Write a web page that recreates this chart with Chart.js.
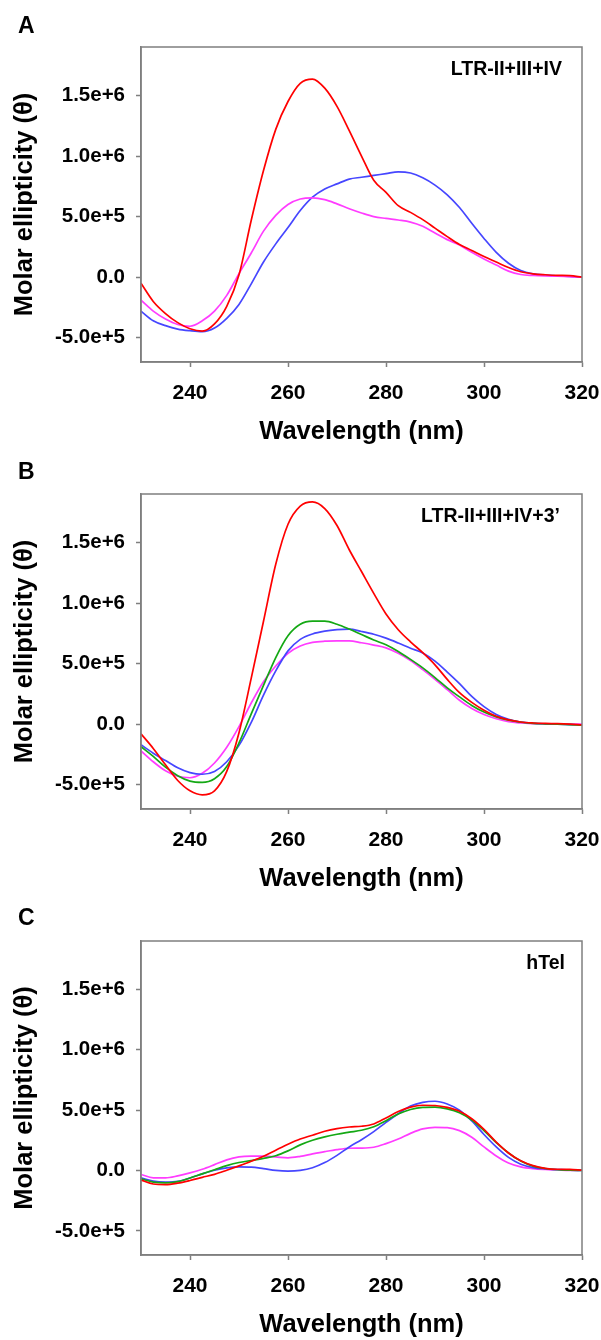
<!DOCTYPE html>
<html>
<head>
<meta charset="utf-8">
<script src="https://cdn.jsdelivr.net/npm/chart.js@4.4.1/dist/chart.umd.min.js"></script>
<style>
  body { margin: 0; background: #fff; width: 601px; height: 1340px; position: relative; overflow: hidden;
         font-family: Arial, "Liberation Sans", sans-serif; }
  .panel { position: absolute; left: 0; width: 601px; height: 447px; }
  .panel canvas { position: absolute; left: 0; top: 0; }
  .letter { position: absolute; left: 18px; font-weight: bold; font-size: 23px; line-height: 23px; color: #000; }
</style>
</head>
<body>
<div class="panel" style="top:0px"><canvas id="chartA" width="601" height="447"></canvas><div class="letter" style="top:14px">A</div></div>
<div class="panel" style="top:447px"><canvas id="chartB" width="601" height="447"></canvas><div class="letter" style="top:13px">B</div></div>
<div class="panel" style="top:894px"><canvas id="chartC" width="601" height="446"></canvas><div class="letter" style="top:12px">C</div></div>
<script>
// wavelength grid (nm), shared by every curve
const wavelengths = [230, 232.5, 235, 237.5, 240, 242.5, 245, 247.5, 250, 252.5, 255, 257.5, 260,
  262.5, 265, 267.5, 270, 272.5, 275, 277.5, 280, 282.5, 285, 287.5, 290, 292.5, 295, 297.5,
  300, 302.5, 305, 307.5, 310, 312.5, 315, 317.5, 320];
const xTickValues = [240, 260, 280, 300, 320];
const yTickValues = [-5e5, 0, 5e5, 1e6, 1.5e6];
const UNIT = 1e5; // series below are in units of 1e5

// panel A: LTR-II+III+IV
const redA = [-0.5, -2.0, -3.0, -3.75, -4.25, -4.45, -3.85, -2.4, 0.2, 4.7, 8.8, 12.2, 14.5,
  16.0, 16.35, 15.6, 14.1, 12.1, 10.0, 8.0, 7.0, 5.9, 5.35, 4.75, 4.05, 3.35, 2.7, 2.2,
  1.7, 1.25, 0.8, 0.45, 0.28, 0.2, 0.15, 0.13, 0.0];
const blueA = [-2.8, -3.6, -4.0, -4.28, -4.42, -4.5, -4.2, -3.4, -2.25, -0.55, 1.25, 2.75, 4.1,
  5.5, 6.6, 7.27, 7.7, 8.1, 8.25, 8.4, 8.55, 8.7, 8.6, 8.2, 7.6, 6.8, 5.75, 4.45,
  3.2, 2.05, 1.15, 0.55, 0.28, 0.18, 0.12, 0.06, 0.0];
const magentaA = [-1.9, -2.8, -3.45, -3.9, -4.05, -3.6, -2.8, -1.5, 0.3, 2.0, 3.8, 5.1, 6.0,
  6.45, 6.55, 6.4, 6.05, 5.65, 5.3, 5.0, 4.85, 4.72, 4.55, 4.2, 3.65, 3.1, 2.65, 2.05,
  1.5, 1.0, 0.5, 0.22, 0.14, 0.1, 0.08, 0.05, 0.0];

// panel B: LTR-II+III+IV+3'
const redB = [-0.8, -2.0, -3.35, -4.65, -5.5, -5.83, -5.5, -3.9, -0.7, 3.8, 8.5, 13.2, 16.5,
  18.0, 18.35, 17.8, 16.4, 14.4, 12.6, 10.8, 9.1, 7.8, 6.8, 5.9, 4.9, 3.7, 2.6, 1.8,
  1.15, 0.65, 0.35, 0.18, 0.1, 0.06, 0.04, 0.0, -0.06];
const blueB = [-1.7, -2.4, -3.0, -3.6, -4.0, -4.13, -3.9, -3.1, -1.75, 0.15, 2.4, 4.4, 6.05,
  7.0, 7.45, 7.68, 7.8, 7.84, 7.65, 7.42, 7.1, 6.7, 6.27, 5.88, 5.2, 4.3, 3.35, 2.3,
  1.45, 0.8, 0.4, 0.18, 0.08, 0.03, 0.0, -0.03, -0.06];
const greenB = [-1.85, -2.66, -3.55, -4.25, -4.7, -4.8, -4.5, -3.5, -1.55, 0.85, 3.2, 5.5, 7.3,
  8.25, 8.5, 8.5, 8.25, 7.85, 7.4, 6.95, 6.55, 6.0, 5.35, 4.65, 3.85, 3.0, 2.25, 1.55,
  1.0, 0.6, 0.33, 0.16, 0.07, 0.03, 0.0, -0.04, -0.08];
const magentaB = [-2.2, -3.1, -3.85, -4.3, -4.42, -4.05, -3.2, -1.9, -0.2, 1.75, 3.5, 4.8, 5.85,
  6.45, 6.75, 6.85, 6.87, 6.87, 6.72, 6.53, 6.3, 5.85, 5.25, 4.5, 3.7, 2.85, 1.98, 1.3,
  0.8, 0.45, 0.2, 0.1, 0.05, 0.02, 0.0, 0.0, 0.0];

// panel C: hTel
const redC = [-0.8, -1.12, -1.17, -1.05, -0.83, -0.57, -0.32, 0.02, 0.38, 0.76, 1.18, 1.68, 2.17,
  2.6, 2.92, 3.25, 3.47, 3.6, 3.66, 3.85, 4.35, 4.88, 5.25, 5.4, 5.38, 5.22, 4.9, 4.28,
  3.4, 2.35, 1.45, 0.8, 0.4, 0.18, 0.1, 0.09, 0.03];
const blueC = [-0.61, -0.88, -0.96, -0.9, -0.62, -0.28, 0.02, 0.22, 0.3, 0.28, 0.15, 0.0, -0.06,
  0.0, 0.22, 0.65, 1.25, 1.95, 2.55, 3.22, 3.98, 4.7, 5.33, 5.64, 5.73, 5.5, 4.98, 4.1,
  2.98, 1.95, 1.08, 0.52, 0.24, 0.13, 0.08, 0.03, 0.0];
const greenC = [-0.69, -0.96, -1.02, -0.92, -0.62, -0.28, 0.06, 0.4, 0.66, 0.82, 1.0, 1.22, 1.62,
  2.12, 2.5, 2.78, 3.0, 3.17, 3.33, 3.62, 4.12, 4.68, 5.05, 5.22, 5.24, 5.1, 4.78, 4.18,
  3.3, 2.3, 1.45, 0.78, 0.36, 0.16, 0.06, 0.02, 0.0];
const magentaC = [-0.33, -0.61, -0.62, -0.45, -0.2, 0.1, 0.48, 0.88, 1.12, 1.18, 1.18, 1.12, 1.05,
  1.17, 1.37, 1.56, 1.73, 1.84, 1.85, 1.92, 2.22, 2.6, 3.07, 3.44, 3.57, 3.55, 3.3, 2.75,
  1.95, 1.2, 0.62, 0.3, 0.15, 0.08, 0.04, 0.0, 0.02];

const RED = "#ff0000";
const BLUE = "#4646ff";
const MAGENTA = "#ff3cff";
const GREEN = "#14a814";
const FRAME = "#7f7f7f";

Chart.defaults.font.family = 'Arial, "Liberation Sans", sans-serif';
Chart.defaults.color = "#000";

// box round the plot + the sample name in the top right corner
const frameAndLabel = {
    id: "frameAndLabel",
    afterDraw(chart, args, opts) {
        const { ctx, chartArea } = chart;
        ctx.save();
        ctx.strokeStyle = FRAME;
        ctx.lineWidth = 1.5;
        ctx.strokeRect(chartArea.left, chartArea.top, chartArea.right - chartArea.left, chartArea.bottom - chartArea.top);
        ctx.font = 'bold 19.5px Arial, "Liberation Sans", sans-serif';
        ctx.fillStyle = "#000";
        ctx.textAlign = "right";
        ctx.textBaseline = "alphabetic";
        ctx.fillText(opts.text, chartArea.right - opts.inset, chartArea.top + 27.5);
        ctx.restore();
    }
};

function makeChart(id, series, label, inset) {
    // first dataset is drawn on top, so red goes first
    const datasets = series.map(s => ({
        data: wavelengths.map((w, i) => ({ x: w, y: s.values[i] * UNIT })),
        borderColor: s.color,
        borderWidth: 1.7,
        pointRadius: 0,
        fill: false,
        cubicInterpolationMode: "monotone"
    }));

    return new Chart(document.getElementById(id), {
        type: "line",
        data: { datasets: datasets },
        options: {
            responsive: false,
            animation: false,
            layout: { padding: { top: 47, right: 19, left: 0, bottom: 0 } },
            plugins: {
                legend: { display: false },
                tooltip: { enabled: false },
                frameAndLabel: { text: label, inset: inset }
            },
            scales: {
                x: {
                    type: "linear",
                    min: 230,
                    max: 320,
                    afterFit: s => { s.height = 85; s.paddingLeft = 0; s.paddingRight = 0; },
                    afterBuildTicks: s => { s.ticks = xTickValues.map(v => ({ value: v })); },
                    grid: { drawOnChartArea: false, tickLength: 5, tickColor: FRAME, tickWidth: 1.5 },
                    border: { color: FRAME, width: 1.5 },
                    ticks: { font: { size: 21, weight: "bold" }, padding: 14, maxRotation: 0 },
                    title: {
                        display: true,
                        text: "Wavelength (nm)",
                        font: { size: 25.5, weight: "bold" },
                        padding: { top: 0, bottom: 0 }
                    }
                },
                y: {
                    min: -7e5,
                    max: 1.9e6,
                    afterFit: s => { s.width = 141; },
                    afterBuildTicks: s => { s.ticks = yTickValues.map(v => ({ value: v })); },
                    grid: { drawOnChartArea: false, tickLength: 5, tickColor: FRAME, tickWidth: 1.5 },
                    border: { color: FRAME, width: 1.5 },
                    ticks: {
                        font: { size: 20.5, weight: "bold" },
                        padding: 11,
                        callback: v => v === 0 ? "0.0" : v.toExponential(1)
                    },
                    title: {
                        display: true,
                        text: "Molar ellipticity (θ)",
                        font: { size: 25.5, weight: "bold" },
                        padding: { top: 10, bottom: 0 }
                    }
                }
            }
        },
        plugins: [frameAndLabel]
    });
}

makeChart("chartA", [
    { values: redA, color: RED },
    { values: magentaA, color: MAGENTA },
    { values: blueA, color: BLUE }
], "LTR-II+III+IV", 20);

makeChart("chartB", [
    { values: redB, color: RED },
    { values: greenB, color: GREEN },
    { values: blueB, color: BLUE },
    { values: magentaB, color: MAGENTA }
], "LTR-II+III+IV+3’", 22);

makeChart("chartC", [
    { values: redC, color: RED },
    { values: greenC, color: GREEN },
    { values: blueC, color: BLUE },
    { values: magentaC, color: MAGENTA }
], "hTel", 17);
</script>
</body>
</html>
